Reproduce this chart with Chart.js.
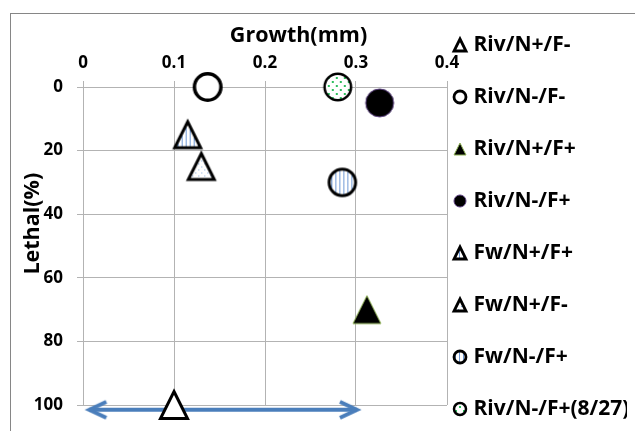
<!DOCTYPE html>
<html>
<head>
<meta charset="utf-8">
<script src="https://cdn.jsdelivr.net/npm/chart.js@4.4.1/dist/chart.umd.min.js"></script>
<style>
  body { margin: 0; background: #fff; }
  #wrap { position: relative; width: 635px; height: 431px; overflow: hidden; }
  #frame { position: absolute; left: 10px; top: 13px; width: 700px; height: 500px; border: 1px solid #868686; }
  canvas { position: absolute; left: 0; top: 0; }
</style>
</head>
<body>
<div id="wrap">
  <div id="frame"></div>
  <canvas id="chart" width="635" height="431"></canvas>
</div>
<script>
// data
const seriesNames = ['Riv/N+/F-', 'Riv/N-/F-', 'Riv/N+/F+', 'Riv/N-/F+', 'Fw/N+/F+', 'Fw/N+/F-', 'Fw/N-/F+', 'Riv/N-/F+(8/27)'];
const growthMm = [0.10, 0.137, 0.312, 0.326, 0.115, 0.130, 0.285, 0.280];
const lethalPct = [100, 0, 70, 5, 15, 25, 30, 0];
const arrowGrowth = [0.007, 0.301];
const arrowLethal = [101.5, 101.5];
const xTicks = [0, 0.1, 0.2, 0.3, 0.4];
const yTicks = [0, 20, 40, 60, 80, 100];

const FONT = 'Open Sans';
const gridColor = '#b3b3b3';
const arrowColor = '#4a7ebb';

// marker looks, same order as seriesNames
const markerStyles = [
  { shape: 'tri', size: 27, fill: '#fff', stroke: '#000', lw: 3 },
  { shape: 'circle', size: 26.5, fill: '#fff', stroke: '#000', lw: 3.5 },
  { shape: 'tri', size: 28, fill: '#000', stroke: '#8fb356', lw: 1 },
  { shape: 'circle', size: 28, fill: '#000', stroke: '#5b3f80', lw: 1 },
  { shape: 'tri', size: 26, fill: 'stripes', stroke: '#000', lw: 3 },
  { shape: 'tri', size: 26, fill: 'bluedots', stroke: '#000', lw: 3 },
  { shape: 'circle', size: 26.5, fill: 'stripes', stroke: '#000', lw: 3 },
  { shape: 'circle', size: 26.5, fill: 'greendots', stroke: '#000', lw: 2.5 }
];

function fillFor(g, fill) {
  if (fill !== 'stripes' && fill !== 'bluedots' && fill !== 'greendots') return fill;
  const p = document.createElement('canvas');
  const pg = p.getContext('2d');
  if (fill === 'stripes') {
    p.width = 4; p.height = 4;
    pg.fillStyle = '#fff'; pg.fillRect(0, 0, 4, 4);
    pg.fillStyle = '#6f9ad6'; pg.fillRect(1, 0, 1, 4);
  } else if (fill === 'bluedots') {
    p.width = 6; p.height = 6;
    pg.fillStyle = '#fff'; pg.fillRect(0, 0, 6, 6);
    pg.fillStyle = '#7ea6dc'; pg.fillRect(1, 1, 1, 1); pg.fillRect(4, 4, 1, 1);
  } else {
    p.width = 8; p.height = 8;
    pg.fillStyle = '#fff'; pg.fillRect(0, 0, 8, 8);
    pg.fillStyle = '#2fbf5f'; pg.fillRect(1, 1, 2, 2); pg.fillRect(5, 5, 2, 2);
  }
  return g.createPattern(p, 'repeat');
}

// shift moves the marker right inside its image (used for the legend)
function makeMarker(st, size, lw, shift) {
  shift = shift || 0;
  const dim = 2 * Math.ceil(size / 2 + lw + 3);
  const c = document.createElement('canvas');
  c.width = dim + 2 * shift;
  c.height = dim;
  const g = c.getContext('2d');
  const h = size / 2, mx = dim / 2 + 2 * shift, my = dim / 2;
  g.beginPath();
  if (st.shape === 'tri') {
    g.moveTo(mx, my - h);
    g.lineTo(mx + h, my + h);
    g.lineTo(mx - h, my + h);
    g.closePath();
  } else {
    g.arc(mx, my, h, 0, Math.PI * 2);
  }
  g.fillStyle = fillFor(g, st.fill);
  g.fill();
  g.lineWidth = lw;
  g.lineJoin = 'miter';
  g.strokeStyle = st.stroke;
  g.stroke();
  return c;
}

function arrowHead(dir) {
  const c = document.createElement('canvas');
  c.width = 44; c.height = 24;
  const g = c.getContext('2d');
  g.strokeStyle = arrowColor;
  g.lineWidth = 4;
  g.lineJoin = 'miter';
  g.beginPath();
  g.moveTo(22 + dir * 17, 4);
  g.lineTo(22, 12);
  g.lineTo(22 + dir * 17, 20);
  g.stroke();
  return c;
}

const bigMarks = markerStyles.map(st => makeMarker(st, st.size, st.lw));
const smallMarks = markerStyles.map(st => makeMarker(st, 12, Math.min(st.lw, 2.8), 3));

const datasets = seriesNames.map((name, i) => ({
  label: name,
  data: [{ x: growthMm[i], y: lethalPct[i] }],
  pointStyle: bigMarks[i],
  pointRadius: 14,
  clip: false,
  xAxisID: 'x',
  yAxisID: 'y'
}));

datasets.push({
  label: 'range',
  data: arrowGrowth.map((x, i) => ({ x: x, y: arrowLethal[i] })),
  showLine: true,
  borderColor: arrowColor,
  borderWidth: 4,
  pointStyle: [arrowHead(1), arrowHead(-1)],
  pointRadius: 10,
  clip: false,
  order: 1,
  xAxisID: 'x',
  yAxisID: 'y'
});

const tickFont = { family: FONT, size: 17, weight: 'bold' };
const titleFont = { family: FONT, size: 21.5, weight: 'bold' };
const legendSize = 21;

new Chart(document.getElementById('chart').getContext('2d'), {
  type: 'scatter',
  data: { datasets: datasets },
  options: {
    responsive: false,
    animation: false,
    layout: { padding: { left: 0, top: 0, right: 8, bottom: -19.5 } },
    scales: {
      x: {
        type: 'linear',
        position: 'top',
        min: 0,
        max: 0.4,
        afterBuildTicks: s => { s.ticks = xTicks.map(v => ({ value: v })); },
        afterFit: s => { s.height = 87; },
        grid: { color: gridColor, tickLength: 6 },
        border: { color: gridColor },
        ticks: { font: tickFont, color: '#000', padding: 8, maxRotation: 0, callback: v => String(v) },
        title: { display: true, text: ' '.repeat(12) + 'Growth(mm)', font: titleFont, color: '#000', padding: { top: 23, bottom: 0 } }
      },
      xb: {
        type: 'linear',
        position: 'bottom',
        afterFit: s => { s.height = 45.5; },
        grid: { display: false },
        border: { display: false },
        ticks: { display: false }
      },
      y: {
        type: 'linear',
        position: 'left',
        reverse: true,
        min: 0,
        max: 100,
        afterBuildTicks: s => { s.ticks = yTicks.map(v => ({ value: v })); },
        afterFit: s => { s.width = 83; },
        grid: { color: gridColor, tickLength: 6 },
        border: { color: gridColor },
        ticks: { font: tickFont, color: '#000', padding: 14 },
        title: { display: true, text: ' '.repeat(8) + 'Lethal(%)', font: titleFont, color: '#000', padding: { top: 20, bottom: 0 } }
      }
    },
    plugins: {
      tooltip: { enabled: false },
      legend: {
        position: 'right',
        align: 'end',
        maxWidth: 180,
        labels: {
          usePointStyle: true,
          boxWidth: 12,
          padding: 4,
          color: '#000',
          font: { family: FONT, size: legendSize, weight: 'bold', lineHeight: 48 / legendSize },
          generateLabels: chart => seriesNames.map((name, i) => ({
            text: [name],
            pointStyle: smallMarks[i],
            datasetIndex: i,
            fontColor: '#000',
            lineWidth: 0,
            hidden: false
          }))
        }
      }
    }
  }
});
</script>
</body>
</html>
